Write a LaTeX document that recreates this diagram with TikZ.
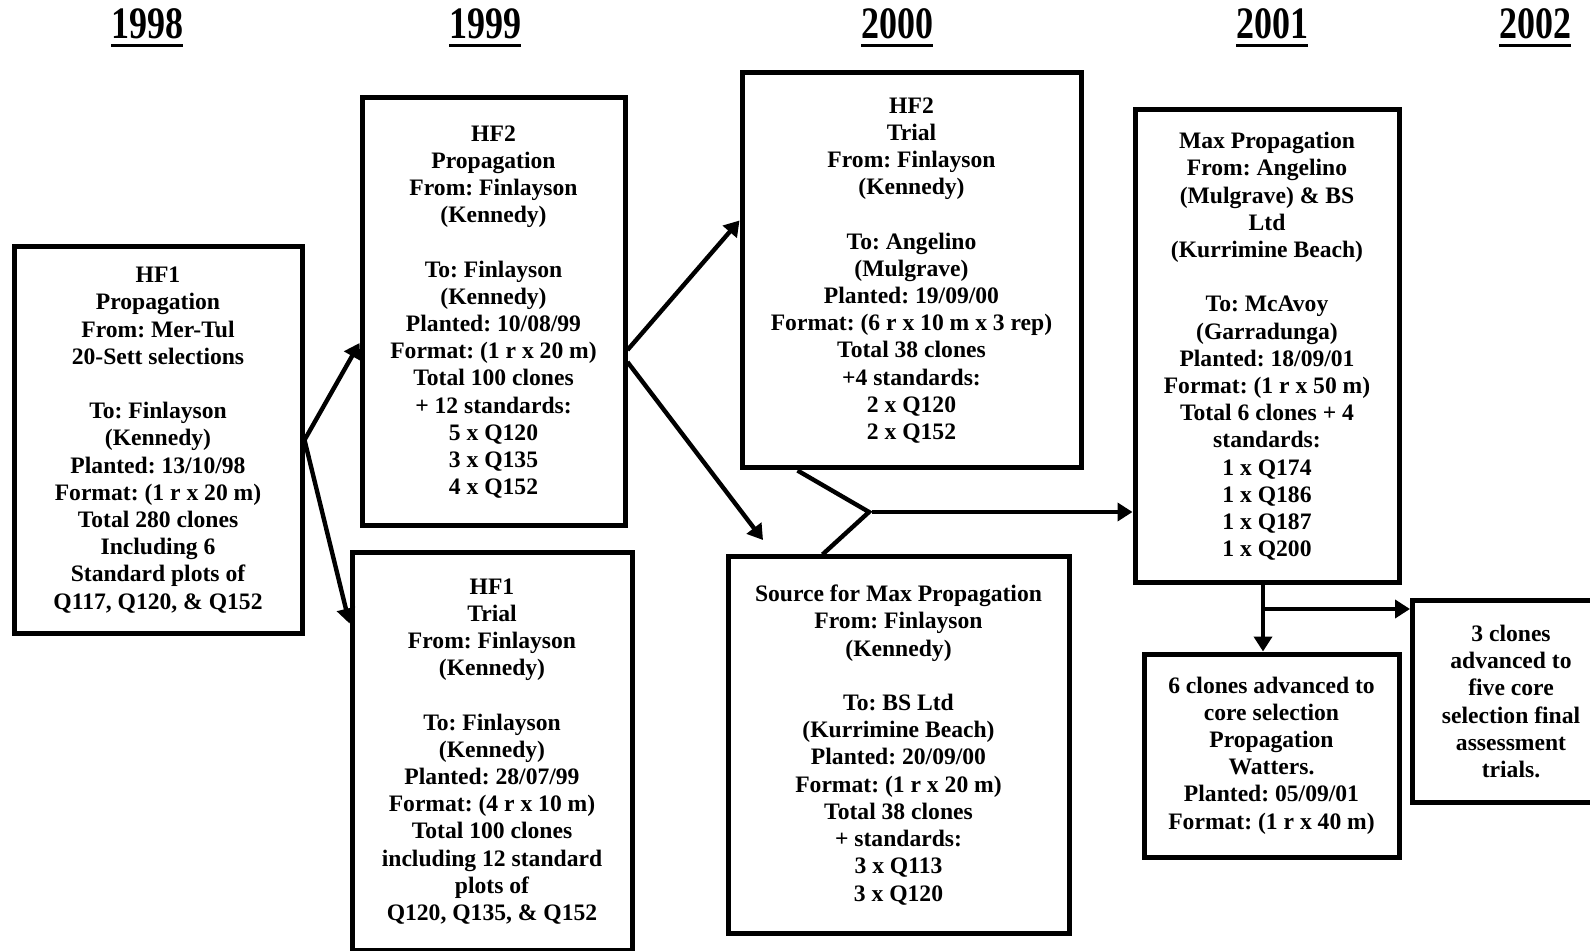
\documentclass[tikz,border=0pt]{standalone}
\usepackage{fontspec}
\setmainfont{Liberation Serif}
\usetikzlibrary{arrows.meta}

\newcommand{\yrline}[1]{\vtop{\hbox{\scalebox{1}[1.25]{#1}}\kern2.5pt\hrule height 1.8pt}}

\begin{document}
\frenchspacing
\begin{tikzpicture}[x=0.5pt, y=-0.5pt,
    box/.style={draw, line width=2.5pt, align=center, inner sep=0pt,
        font=\bfseries\fontsize{11.8}{13.6}\selectfont},
    yr/.style={font=\bfseries\fontsize{18}{20}\selectfont, inner sep=0pt, anchor=north},
    arr/.style={line width=2.2pt, -{Triangle[length=7.5pt,width=9pt]}},
    lnk/.style={line width=2.2pt}]

\clip (0,0) rectangle (1590,951);

\node[yr] (y98) at (147,8) {\yrline{1998}};
\node[yr] (y99) at (485,8) {\yrline{1999}};
\node[yr] (y00) at (897,8) {\yrline{2000}};
\node[yr] (y01) at (1272,8) {\yrline{2001}};
\node[yr] (y02) at (1535,8) {\yrline{2002}};

\node[box, minimum width=144pt, minimum height=193pt] (hf1p) at (158,440)
    {HF1\\Propagation\\From: Mer-Tul\\20-Sett selections\\[13.6pt]
     To: Finlayson\\(Kennedy)\\Planted: 13/10/98\\Format: (1 r x 20 m)\\
     Total 280 clones\\Including 6\\Standard plots of\\Q117, Q120, \& Q152};

\node[box, minimum width=131.5pt, minimum height=214pt] (hf2p) at (493.5,312)
    {HF2\\Propagation\\From: Finlayson\\(Kennedy)\\[13.6pt]
     To: Finlayson\\(Kennedy)\\Planted: 10/08/99\\Format: (1 r x 20 m)\\
     Total 100 clones\\+ 12 standards:\\5 x Q120\\3 x Q135\\4 x Q152};

\node[box, minimum width=140pt, minimum height=198.5pt] (hf1t) at (492,751.5)
    {HF1\\Trial\\From: Finlayson\\(Kennedy)\\[13.6pt]
     To: Finlayson\\(Kennedy)\\Planted: 28/07/99\\Format: (4 r x 10 m)\\
     Total 100 clones\\including 12 standard\\plots of\\Q120, Q135, \& Q152};

\node[box, minimum width=169.5pt, minimum height=197.5pt] (hf2t) at (911.5,270.5)
    {HF2\\Trial\\From: Finlayson\\(Kennedy)\\[13.6pt]
     To: Angelino\\(Mulgrave)\\Planted: 19/09/00\\Format: (6 r x 10 m x 3 rep)\\
     Total 38 clones\\+4 standards:\\2 x Q120\\2 x Q152};

\node[box, minimum width=170.5pt, minimum height=188pt] (src) at (898.5,745)
    {Source for Max Propagation\\From: Finlayson\\(Kennedy)\\[13.6pt]
     To: BS Ltd\\(Kurrimine Beach)\\Planted: 20/09/00\\Format: (1 r x 20 m)\\
     Total 38 clones\\+ standards:\\3 x Q113\\3 x Q120};

\node[box, minimum width=132pt, minimum height=236.5pt] (maxp) at (1267,346.5)
    {Max Propagation\\From: Angelino\\(Mulgrave) \& BS\\Ltd\\(Kurrimine Beach)\\[13.6pt]
     To: McAvoy\\(Garradunga)\\Planted: 18/09/01\\Format: (1 r x 50 m)\\
     Total 6 clones + 4\\standards:\\1 x Q174\\1 x Q186\\1 x Q187\\1 x Q200};

\node[box, minimum width=127.5pt, minimum height=101.5pt] (six) at (1271.5,755.5)
    {6 clones advanced to\\core selection\\Propagation\\Watters.\\
     Planted: 05/09/01\\Format: (1 r x 40 m)};

\node[box, minimum width=98.5pt, minimum height=100.5pt] (three) at (1511,701.5)
    {3 clones\\advanced to\\five core\\selection final\\assessment\\trials.};

\coordinate (srcin) at (763,540);
\coordinate (jn) at (869,512);
\coordinate (br) at (1263,609);

\draw[arr] (hf1p.east) -- ([yshift=-15.5pt]hf2p.west);
\draw[arr] (hf1p.east) -- ([yshift=64pt]hf1t.west);
\draw[arr] ([yshift=-19pt]hf2p.east) -- ([yshift=25pt]hf2t.west);
\draw[arr] ([yshift=-25pt]hf2p.east) -- (srcin);

\draw[lnk] ([xshift=-57pt]hf2t.south) -- (jn) -- ([xshift=-38pt]src.north);
\draw[arr] ([xshift=1.5pt]jn) -- (jn -| maxp.west);

\draw[arr] ([xshift=-2pt]maxp.south) -- ([xshift=-2pt]maxp.south |- six.north);
\draw[arr] (br) -- (br -| three.west);

\end{tikzpicture}
\end{document}
